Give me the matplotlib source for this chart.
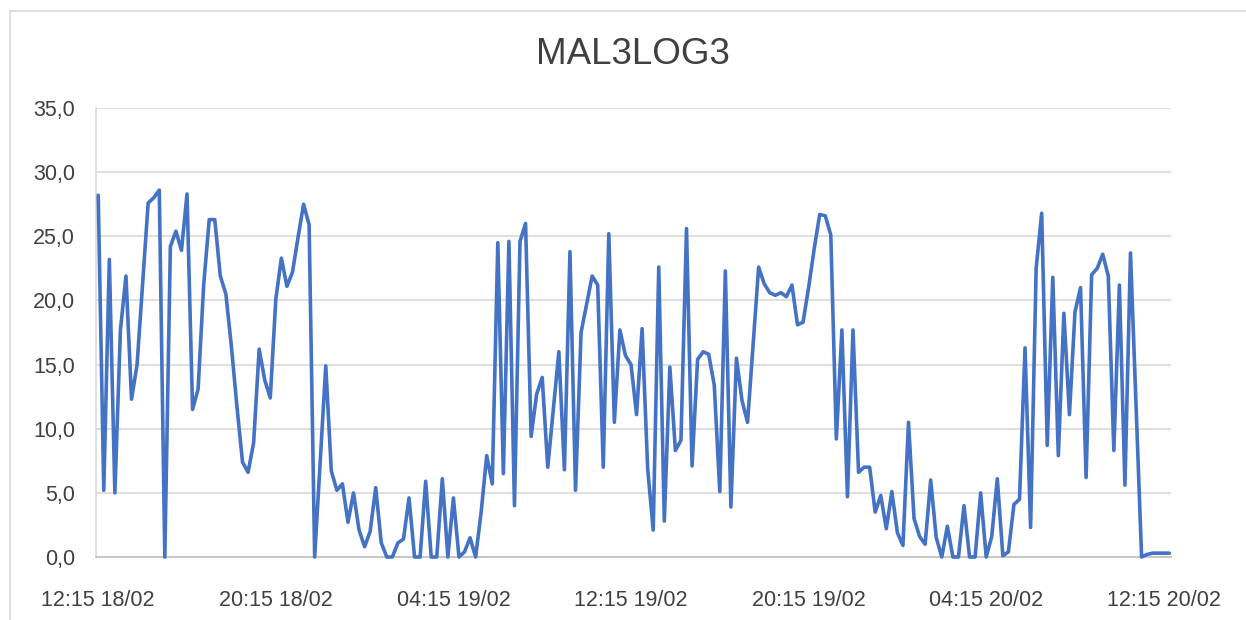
import matplotlib.pyplot as plt
import numpy as np

plt.rcParams['font.family'] = ['Liberation Sans', 'DejaVu Sans']

# 15 minute readings, 12:15 18/02 -> 12:30 20/02
values = [
    28.2, 5.2, 23.2, 5.0, 17.7, 21.9, 12.3, 15.0, 21.3, 27.6,
    28.0, 28.6, 0.0, 24.2, 25.4, 23.9, 28.3, 11.5, 13.1, 21.2,
    26.3, 26.3, 21.9, 20.5, 16.4, 11.7, 7.4, 6.6, 8.9, 16.2,
    13.8, 12.4, 20.1, 23.3, 21.1, 22.2, 24.9, 27.5, 25.9, 0.0,
    7.4, 14.9, 6.7, 5.2, 5.7, 2.7, 5.0, 2.1, 0.8, 2.0,
    5.4, 1.1, 0.0, 0.0, 1.1, 1.4, 4.6, 0.0, 0.0, 5.9,
    0.0, 0.0, 6.1, 0.0, 4.6, 0.0, 0.4, 1.5, 0.0, 3.5,
    7.9, 5.7, 24.5, 6.5, 24.6, 4.0, 24.6, 26.0, 9.4, 12.7,
    14.0, 7.0, 11.5, 16.0, 6.8, 23.8, 5.2, 17.5, 19.7, 21.9,
    21.2, 7.0, 25.2, 10.5, 17.7, 15.7, 15.0, 11.1, 17.8, 6.9,
    2.1, 22.6, 2.8, 14.8, 8.3, 9.1, 25.6, 7.1, 15.4, 16.0,
    15.8, 13.4, 5.1, 22.3, 3.9, 15.5, 12.2, 10.5, 16.6, 22.6,
    21.3, 20.6, 20.4, 20.6, 20.3, 21.2, 18.1, 18.3, 21.0, 24.0,
    26.7, 26.6, 25.1, 9.2, 17.7, 4.7, 17.7, 6.6, 7.0, 7.0,
    3.5, 4.8, 2.2, 5.1, 1.9, 0.9, 10.5, 3.0, 1.6, 1.0,
    6.0, 1.5, 0.0, 2.4, 0.0, 0.0, 4.0, 0.0, 0.0, 5.0,
    0.0, 1.6, 6.1, 0.1, 0.4, 4.1, 4.5, 16.3, 2.3, 22.5,
    26.8, 8.7, 21.8, 7.9, 19.0, 11.1, 19.1, 21.0, 6.2, 22.0,
    22.5, 23.6, 21.9, 8.3, 21.2, 5.6, 23.7, 11.8, 0.0, 0.2,
    0.3, 0.3, 0.3, 0.3,
]
tick_pos = [0, 32, 64, 96, 128, 160, 192]
tick_labels = ['12:15 18/02', '20:15 18/02', '04:15 19/02', '12:15 19/02',
               '20:15 19/02', '04:15 20/02', '12:15 20/02']
y_ticks = [0, 5, 10, 15, 20, 25, 30, 35]

W, H = 1246, 620
fig = plt.figure(figsize=(W / 100, H / 100), dpi=100)

# chart frame (only top and left edges visible in the crop)
fig.add_artist(plt.Line2D([10 / W, 1], [1 - 11 / H, 1 - 11 / H], color='#d9d9d9', lw=1.2))
fig.add_artist(plt.Line2D([10 / W, 10 / W], [0, 1 - 11 / H], color='#d9d9d9', lw=1.2))

ax = fig.add_axes([96 / W, 1 - 557 / H, (1171 - 96) / W, (557 - 108) / H])
x = np.arange(len(values))
ax.plot(x, values, color='#4472C4', lw=2.6, solid_joinstyle='round',
        solid_capstyle='round', clip_on=False, zorder=3)

ax.set_xlim(-0.4, 193.3)
ax.set_ylim(0, 35)
ax.set_yticks(y_ticks)
ax.set_yticklabels([f'{v:.1f}'.replace('.', ',') for v in y_ticks])
ax.set_xticks(tick_pos)
ax.set_xticklabels(tick_labels)
ax.set_axisbelow(True)
ax.grid(axis='y', color='#d9d9d9', lw=1.2)

for s in ['top', 'right']:
    ax.spines[s].set_visible(False)
ax.spines['left'].set_color('#d9d9d9')
ax.spines['left'].set_linewidth(1.2)
ax.spines['bottom'].set_color('#bfbfbf')
ax.spines['bottom'].set_linewidth(1.2)
ax.tick_params(axis='both', length=0, labelsize=15.5, colors='#404040')
ax.tick_params(axis='y', pad=15)
ax.tick_params(axis='x', pad=24)

fig.text(633 / W, 1 - 55 / H, 'MAL3LOG3', ha='center', va='center',
         fontsize=26.5, color='#404040')

fig.savefig('out.png', dpi=100)
